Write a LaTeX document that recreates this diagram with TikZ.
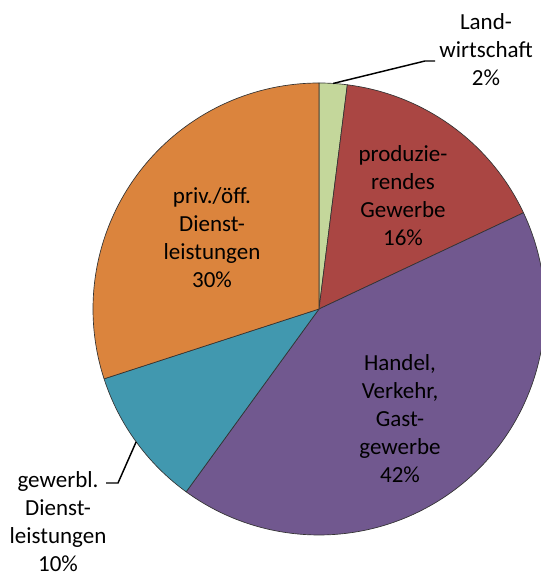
\documentclass[tikz,border=0pt]{standalone}
\usepackage{fontspec}
\setmainfont{Carlito}
\usetikzlibrary{calc}
\definecolor{landw}{HTML}{C4D79B}
\definecolor{produz}{HTML}{AA4643}
\definecolor{handel}{HTML}{71588F}
\definecolor{gewdl}{HTML}{4198AF}
\definecolor{privdl}{HTML}{DB843D}
\begin{document}
\begin{tikzpicture}[x=0.75pt,y=0.75pt]
            \useasboundingbox (0,0) rectangle (541,577);
            \tikzset{slice/.style={draw=black!80,line width=0.5pt,line join=round},
                     leader/.style={draw=black,line width=1.1pt}}
            \coordinate (m) at (319,268);
            % slices, clockwise from the top
            \filldraw[slice,fill=landw]  (m) -- ++(90:169.5pt) arc (90:82.8:169.5pt) -- cycle;
            \filldraw[slice,fill=produz] (m) -- ++(82.8:169.5pt) arc (82.8:25.2:169.5pt) -- cycle;
            \filldraw[slice,fill=handel] (m) -- ++(25.2:169.5pt) arc (25.2:-126:169.5pt) -- cycle;
            \filldraw[slice,fill=gewdl]  (m) -- ++(-126:169.5pt) arc (-126:-162:169.5pt) -- cycle;
            \filldraw[slice,fill=privdl] (m) -- ++(-162:169.5pt) arc (-162:-270:169.5pt) -- cycle;
            \begin{scope}[every node/.style={align=center,inner sep=0pt,font=\fontsize{17.25}{21}\selectfont}]
                \node (priv) at (212,339) {priv./öff.\\Dienst-\\leistungen\\30\%};
                \node (prod) at (403,381) {produzie-\\rendes\\Gewerbe\\16\%};
                \node (hand) at (400,158) {Handel,\\Verkehr,\\Gast-\\gewerbe\\42\%};
                \node (land) at (486,527) {Land-\\wirtschaft\\2\%};
                \node (gew) at (58,55) {gewerbl.\\Dienst-\\leistungen\\10\%};
            \end{scope}
            \coordinate (landrand) at ($(m)+(86.4:169.5pt)$);
            \coordinate (landknick) at (425,516);
            \coordinate (landend) at (435,516);
            \coordinate (gewrand) at ($(m)+(-144:169.5pt)$);
            \coordinate (gewknick) at (118,94);
            \coordinate (gewend) at (106,94);
            \draw[leader] (landrand) -- (landknick) -- (landend);
            \draw[leader] (gewrand) -- (gewknick) -- (gewend);
        \end{tikzpicture}
\end{document}
